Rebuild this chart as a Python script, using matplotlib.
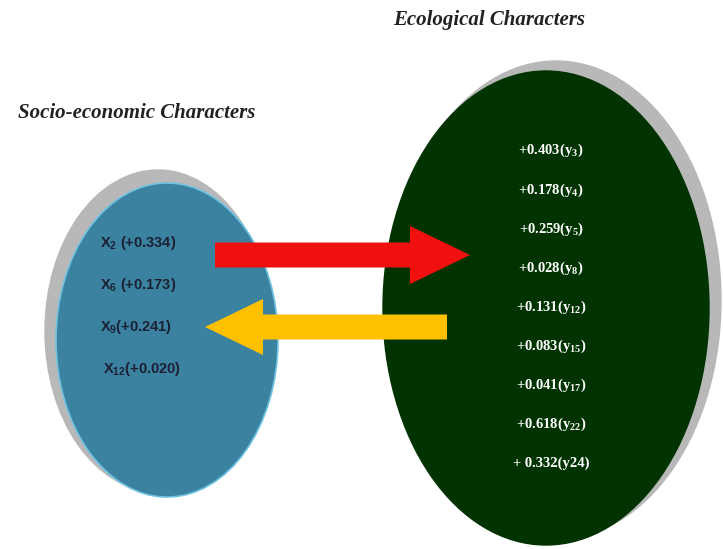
import matplotlib.pyplot as plt
from matplotlib.patches import Ellipse, FancyArrow

plt.rcParams['mathtext.default'] = 'regular'

# socio-economic characters (X) and their coefficients
socio_vars = ['2', '6', '9', '12']
socio_vals = ['+0.334', '+0.173', '+0.241', '+0.020']
socio_gap = [' ', ' ', '', '']

# ecological characters (y) and their coefficients
eco_vars = ['3', '4', '5', '8', '12', '15', '17', '22', '24']
eco_vals = ['+0.403', '+0.178', '+0.259', '+0.028', '+0.131', '+0.083', '+0.041', '+0.618', '+ 0.332']

W, H = 723, 549
fig = plt.figure(figsize=(W / 100, H / 100), dpi=100)
ax = fig.add_axes([0, 0, 1, 1])
ax.set_xlim(0, W)
ax.set_ylim(H, 0)
ax.axis('off')

# left ellipse with gray shadow
ax.add_patch(Ellipse((158, 331), 226, 322, color='#b8b8b8', zorder=1))
ax.add_patch(Ellipse((167, 340), 222, 314, facecolor='#3a82a0',
                     edgecolor='#6fc3e0', lw=1.2, zorder=2))

# right ellipse with gray shadow
ax.add_patch(Ellipse((556, 300), 330, 478, color='#b8b8b8', zorder=1))
ax.add_patch(Ellipse((546, 308), 326, 474, color='#003300', zorder=2))

# arrows
ax.add_patch(FancyArrow(215, 255, 255, 0, width=25, head_width=58,
                        head_length=60, length_includes_head=True,
                        color='#f01010', lw=0, zorder=3))
ax.add_patch(FancyArrow(447, 327, -242, 0, width=25, head_width=56,
                        head_length=58, length_includes_head=True,
                        color='#ffc000', lw=0, zorder=3))

# titles
ax.text(489, 20, 'Ecological Characters', family='Liberation Serif',
        style='italic', weight='bold', fontsize=15, ha='center', va='center',
        color='#222222')
ax.text(137, 113, 'Socio-economic Characters', family='Liberation Serif',
        style='italic', weight='bold', fontsize=15, ha='center', va='center',
        color='#222222')

# left labels
socio_x = [100, 100, 100, 103]
socio_y = [243, 285, 327, 369]
for v, val, gap, x, y in zip(socio_vars, socio_vals, socio_gap, socio_x, socio_y):
    ax.text(x, y, 'X$_{%s}$%s(%s)' % (v, gap, val), family='Liberation Sans',
            weight='bold', fontsize=10.5, ha='left', va='center',
            color='#1c2033', zorder=4)

# right labels
eco_y = [150, 190, 229, 268, 307, 346, 385, 424, 463]
for v, val, y in zip(eco_vars, eco_vals, eco_y):
    if v == '24':
        s = '%s(y%s)' % (val, v)
    else:
        s = '%s(y$_{%s}$)' % (val, v)
    ax.text(551, y, s, family='Liberation Serif', weight='bold', fontsize=10.5,
            ha='center', va='center', color='white', zorder=4)

fig.savefig('out.png', dpi=100, facecolor='white')
